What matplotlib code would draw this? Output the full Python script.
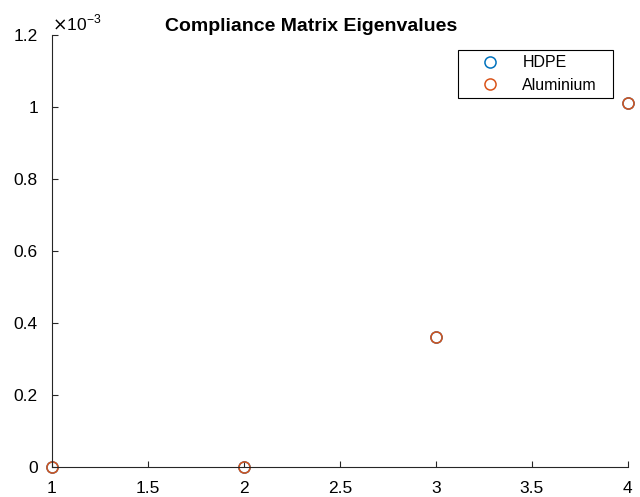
import matplotlib.pyplot as plt
from matplotlib.ticker import FuncFormatter

plt.rcParams['font.family'] = ['Liberation Sans', 'DejaVu Sans']
plt.rcParams['xtick.direction'] = 'in'
plt.rcParams['ytick.direction'] = 'in'

# eigenvalues of the compliance matrix, index 1..4
idx = [1, 2, 3, 4]
hdpe = [0.0, 0.0, 0.361e-3, 1.011e-3]
alu = [0.0, 0.0, 0.361e-3, 1.011e-3]

fig = plt.figure(figsize=(6.4, 4.97), dpi=100)
ax = fig.add_axes([0.081, 0.0604, 0.9, 0.8692])

ax.plot(idx, hdpe, 'o', mfc='none', mec='#0072BD', ms=8, mew=1.1, label='HDPE', clip_on=False)
ax.plot(idx, alu, 'o', mfc='none', mec='#D95319', ms=8, mew=1.1, label='Aluminium', clip_on=False)

ax.set_xlim(1, 4)
ax.set_ylim(0, 1.2e-3)
ax.set_xticks([1, 1.5, 2, 2.5, 3, 3.5, 4])
ax.set_xticklabels(['1', '1.5', '2', '2.5', '3', '3.5', '4'])
ax.set_yticks([0, 0.2e-3, 0.4e-3, 0.6e-3, 0.8e-3, 1.0e-3, 1.2e-3])
ax.yaxis.set_major_formatter(FuncFormatter(lambda v, p: '%g' % round(v / 1e-3, 3)))

ax.spines['top'].set_visible(False)
ax.spines['right'].set_visible(False)
for s in ['left', 'bottom']:
    ax.spines[s].set_linewidth(0.8)
    ax.spines[s].set_color('#262626')
ax.tick_params(axis='both', direction='in', length=4, width=0.8, colors='#262626',
               labelsize=12.5, labelcolor='black')
ax.tick_params(axis='y', pad=10)
ax.tick_params(axis='x', pad=10)

ax.text(0.0, 1.003, r'$\times$10$^{\mathregular{-3}}$', transform=ax.transAxes,
        fontsize=12.5, ha='left', va='bottom')
ax.set_title('Compliance Matrix Eigenvalues', fontsize=14, fontweight='bold', pad=2, x=0.45)

leg = ax.legend(loc='upper left', bbox_to_anchor=(0.705, 0.5, 0.269, 0.465), mode='expand',
                fontsize=11.5, fancybox=False, framealpha=1, edgecolor='black', borderpad=0.33,
                handlelength=3.4, handletextpad=0.3, labelspacing=0.48, borderaxespad=0)
leg.get_frame().set_linewidth(0.8)

fig.savefig('out.png', dpi=100)
